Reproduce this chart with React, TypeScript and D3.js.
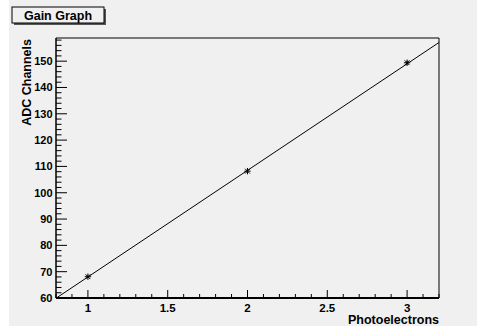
import React from "react";
import * as d3 from "d3";

const xValues = [1, 2, 3];
const yValues = [68.1, 108.2, 149.4];
const yErrors = [0.5, 0.5, 0.7];
const fitSlope = 40.5;
const fitIntercept = 27.5;
const xTicks = [1, 1.5, 2, 2.5, 3];
const yTicks = [60, 70, 80, 90, 100, 110, 120, 130, 140, 150];
const title = "Gain Graph";
const xLabel = "Photoelectrons";
const yLabel = "ADC Channels";

const W = 477;
const H = 326;
const L = 56, R = 439, T = 38, B = 298;
const FONT = "'Liberation Sans', Arial, Helvetica, sans-serif";

export default function App() {
  const x = d3.scaleLinear().domain([0.8, 3.2]).range([L, R]);
  const y = d3.scaleLinear().domain([60, 158.8]).range([B, T]);
  const xMinor = d3.range(0.8, 3.2001, 0.1).map((v) => +v.toFixed(2)).filter((v) => !xTicks.includes(v));
  const yMinor = d3.range(60, 158.8, 2).filter((v) => v % 10 !== 0);
  const fitLine = d3.line<number>().x((d) => x(d)).y((d) => y(fitIntercept + fitSlope * d));
  const fx0 = 0.8, fx1 = 3.2;
  const s = 3.2;
  return (
    <svg width={W} height={H} style={{ position: "absolute", left: 0, top: 0 }} fontFamily={FONT}>
      <rect x={0} y={0} width={W} height={H} fill="#ffffff" />
      <rect x={9} y={0} width={W - 9} height={H} fill="#f0f0f0" />
      {/* title box */}
      <rect x={14} y={9} width={92} height={16} fill="#555" />
      <rect x={12} y={7} width={92} height={16} fill="#f0f0f0" stroke="#000" strokeWidth={1} />
      <text x={58} y={19.5} textAnchor="middle" fontSize={12.5} fontWeight="bold">{title}</text>
      {/* frame */}
      <line x1={L} y1={T} x2={R} y2={T} stroke="#000" />
      <line x1={R} y1={T} x2={R} y2={B} stroke="#000" />
      <line x1={L} y1={B} x2={R} y2={B} stroke="#000" strokeWidth={2} />
      <line x1={L} y1={T} x2={L} y2={B} stroke="#000" strokeWidth={1.5} />
      {/* x ticks */}
      {xTicks.map((t) => (
        <g key={"xt" + t}>
          <line x1={x(t)} x2={x(t)} y1={B} y2={B - 8} stroke="#000" />
          <text x={x(t)} y={311.5} textAnchor="middle" fontSize={11.5} fontWeight="bold">{t}</text>
        </g>
      ))}
      {xMinor.map((t) => (
        <line key={"xm" + t} x1={x(t)} x2={x(t)} y1={B} y2={B - 4} stroke="#000" />
      ))}
      {/* y ticks */}
      {yTicks.map((t) => (
        <g key={"yt" + t}>
          <line x1={L} x2={L + 11} y1={y(t)} y2={y(t)} stroke="#000" />
          <text x={52.5} y={y(t) + 4} textAnchor="end" fontSize={11} fontWeight="bold">{t}</text>
        </g>
      ))}
      {yMinor.map((t) => (
        <line key={"ym" + t} x1={L} x2={L + 5.5} y1={y(t)} y2={y(t)} stroke="#000" />
      ))}
      {/* axis titles */}
      <text x={439} y={324} textAnchor="end" fontSize={12.5} fontWeight="bold">{xLabel}</text>
      <text transform={`translate(31,${T + 1}) rotate(-90)`} textAnchor="end" fontSize={12.5} fontWeight="bold">{yLabel}</text>
      {/* fit */}
      <path d={fitLine([fx0, fx1]) || ""} stroke="#000" strokeWidth={1} fill="none" />
      {/* points */}
      {xValues.map((xv, i) => {
        const px = x(xv), py = y(yValues[i]);
        return (
          <g key={"p" + i} stroke="#000" strokeWidth={1}>
            <line x1={px} x2={px} y1={y(yValues[i] - yErrors[i])} y2={y(yValues[i] + yErrors[i])} />
            <line x1={px - s} x2={px + s} y1={py} y2={py} />
            <line x1={px} x2={px} y1={py - s} y2={py + s} />
            <line x1={px - s * 0.75} x2={px + s * 0.75} y1={py - s * 0.75} y2={py + s * 0.75} />
            <line x1={px - s * 0.75} x2={px + s * 0.75} y1={py + s * 0.75} y2={py - s * 0.75} />
          </g>
        );
      })}
    </svg>
  );
}
